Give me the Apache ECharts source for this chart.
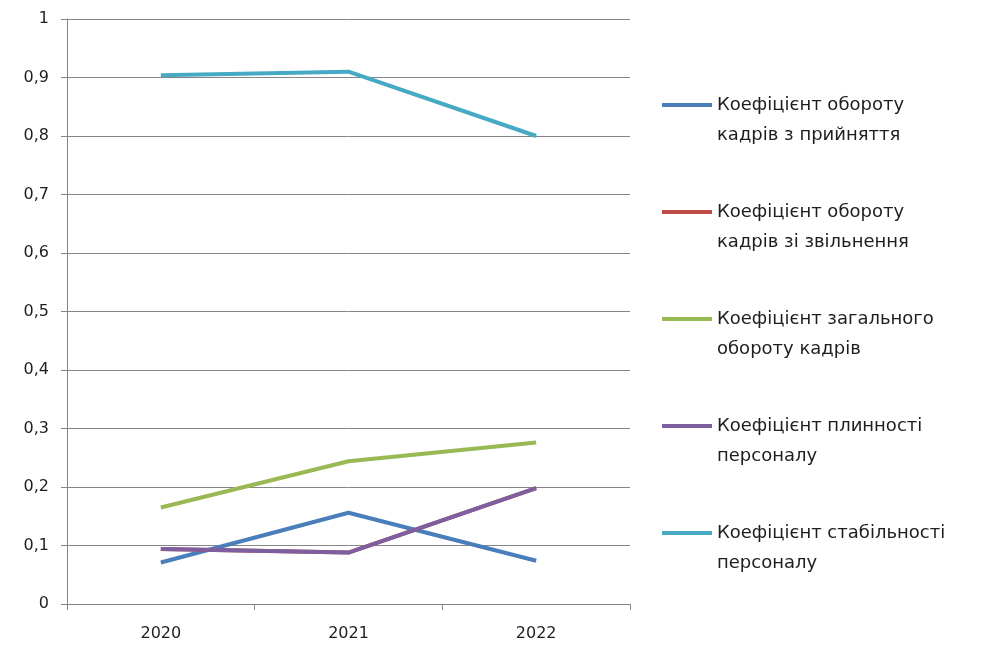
<!DOCTYPE html>
<html lang="uk">
<head>
    <meta charset="UTF-8">
    <title>Коефіцієнти руху персоналу</title>
    <script src="https://cdn.jsdelivr.net/npm/echarts@6/dist/echarts.min.js"></script>
    <style>
        html, body { margin: 0; padding: 0; background: #fff; }
        #main { width: 982px; height: 648px; }
    </style>
</head>
<body>
    <div id="main"></div>
    <script>
        // дані
        var years = ['2020', '2021', '2022'];
        var hireTurnover = [0.071, 0.156, 0.074];
        var leaveTurnover = [0.094, 0.088, 0.198];
        var totalTurnover = [0.165, 0.244, 0.276];
        var fluidity = [0.094, 0.088, 0.198];
        var stability = [0.904, 0.910, 0.800];

        var names = [
            'Коефіцієнт обороту\nкадрів з прийняття',
            'Коефіцієнт обороту\nкадрів зі звільнення',
            'Коефіцієнт загального\nобороту кадрів',
            'Коефіцієнт плинності\nперсоналу',
            'Коефіцієнт стабільності\nперсоналу'
        ];
        var colors = ['#4A7EBB', '#BE4B48', '#98B954', '#7D5FA0', '#46AAC5'];
        var values = [hireTurnover, leaveTurnover, totalTurnover, fluidity, stability];

        var font = 'DejaVu Sans';
        var myChart = echarts.init(document.getElementById('main'));

        var series = values.map(function (data, i) {
            return {
                name: names[i],
                type: 'line',
                data: data,
                symbol: 'none',
                lineStyle: { width: 4, color: colors[i] },
                itemStyle: { color: colors[i] }
            };
        });

        var option = {
            animation: false,
            backgroundColor: '#fff',
            grid: {
                left: 67,
                right: 352,
                top: 19,
                bottom: 44
            },
            legend: {
                orient: 'vertical',
                left: 662,
                top: 60,
                padding: 0,
                itemWidth: 50,
                itemHeight: 4,
                itemGap: 17,
                icon: 'rect',
                // порожній перший рядок, щоб лінія стояла навпроти першого рядка
                formatter: function (name) {
                    return '\n' + name;
                },
                textStyle: {
                    fontFamily: font,
                    fontSize: 18,
                    color: '#1e1e1e',
                    lineHeight: 30
                },
                data: names
            },
            xAxis: {
                type: 'category',
                data: years,
                boundaryGap: true,
                axisLine: { lineStyle: { color: '#868686', width: 1 } },
                axisTick: { show: true, length: 6, lineStyle: { color: '#868686' } },
                axisLabel: {
                    fontFamily: font,
                    fontSize: 16,
                    color: '#1e1e1e',
                    margin: 22
                }
            },
            yAxis: {
                type: 'value',
                min: 0,
                max: 1,
                interval: 0.1,
                axisLine: { show: true, lineStyle: { color: '#868686', width: 1 } },
                axisTick: { show: true, length: 6, lineStyle: { color: '#868686' } },
                splitLine: { lineStyle: { color: '#868686', width: 1 } },
                axisLabel: {
                    fontFamily: font,
                    fontSize: 16,
                    color: '#1e1e1e',
                    margin: 18,
                    formatter: function (v) {
                        return String(Math.round(v * 10) / 10).replace('.', ',');
                    }
                }
            },
            series: series
        };
        myChart.setOption(option);
    </script>
</body>
</html>
